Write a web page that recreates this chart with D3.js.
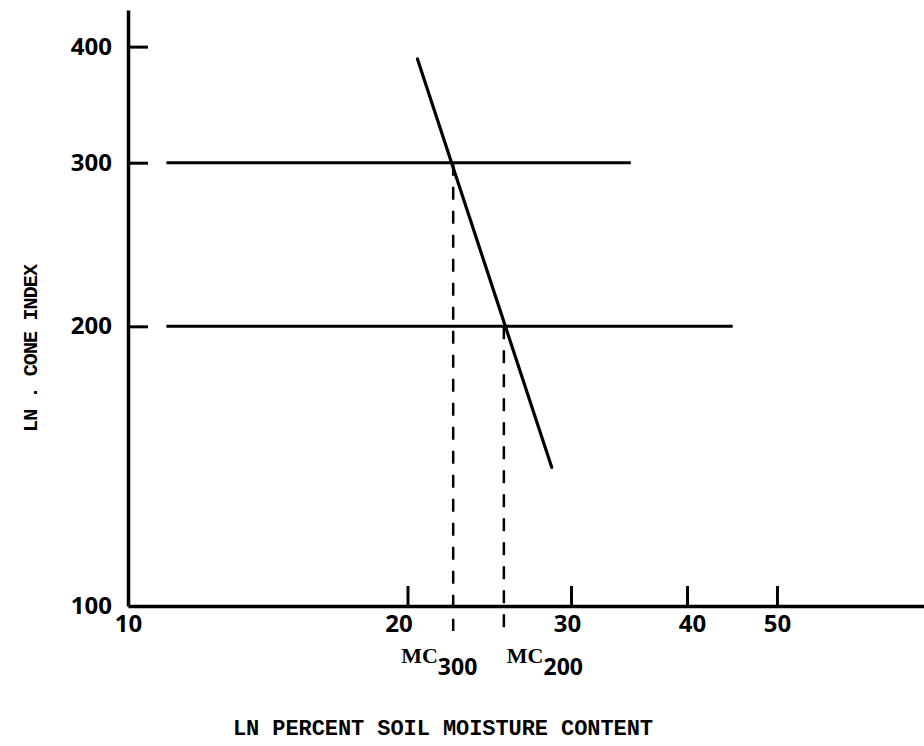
<!DOCTYPE html>
<html>
<head>
<meta charset="utf-8">
<script src="https://cdn.jsdelivr.net/npm/d3@7"></script>
<style>
  body { margin: 0; background: #fff; }
  .tick text { font-family: "Noto Sans", sans-serif; font-weight: bold; }
</style>
</head>
<body>
<div id="chart"></div>
<script>
// tick values on the two log axes
var xTicks = [10, 20, 30, 40, 50];
var yTicks = [100, 200, 300, 400];

// horizontal reference lines: cone index level and x range
var refLevels = [300, 200];
var refStart = [11, 11];
var refEnd = [34.8, 44.8];

// the fitted line (moisture %, cone index) at its two ends
var fitMoisture = [20.5, 28.6];
var fitCone = [388, 141];

// moisture where the line crosses each level
var mcNames = ["300", "200"];
var mcMoisture = [22.4, 25.4];
var mcCone = [300, 200];

var width = 924, height = 746;

var svg = d3.select("#chart")
  .append("svg")
  .attr("width", width)
  .attr("height", height);

var x = d3.scaleLog().domain([10, 72]).range([128, 924]);
var y = d3.scaleLog().domain([100, 438]).range([606, 10]);

// x axis, ticks point up into the plot
var xAxis = svg.append("g")
  .attr("transform", "translate(0," + y(100) + ")")
  .call(d3.axisBottom(x)
    .tickValues(xTicks)
    .tickFormat(d3.format("d"))
    .tickSizeInner(-20)
    .tickSizeOuter(0)
    .tickPadding(9));
xAxis.select(".domain").attr("stroke-width", 3.5);
xAxis.selectAll(".tick line").attr("stroke-width", 3);
xAxis.selectAll(".tick text").attr("font-size", 24).attr("fill", "#000");
xAxis.selectAll(".tick").filter(function(d) { return d == 10; }).select("line").remove();
// labels sit a little off their ticks in the original
xAxis.selectAll(".tick text").attr("dx", function(d) {
  return d == 20 ? -9 : d == 30 ? -4 : d == 40 ? 5 : 0;
});

// y axis, ticks point right
var yAxis = svg.append("g")
  .attr("transform", "translate(" + x(10) + ",0)")
  .call(d3.axisLeft(y)
    .tickValues(yTicks)
    .tickFormat(d3.format("d"))
    .tickSizeInner(-20)
    .tickSizeOuter(0)
    .tickPadding(16));
yAxis.select(".domain").attr("stroke-width", 3.5);
yAxis.selectAll(".tick line").attr("stroke-width", 3);
yAxis.selectAll(".tick text").attr("font-size", 24).attr("fill", "#000");
yAxis.selectAll(".tick").filter(function(d) { return d == 100; }).select("line").remove();

// horizontal level lines
svg.append("g").selectAll("line")
  .data(refLevels)
  .enter().append("line")
  .attr("x1", function(d, i) { return x(refStart[i]); })
  .attr("x2", function(d, i) { return x(refEnd[i]); })
  .attr("y1", function(d) { return y(d); })
  .attr("y2", function(d) { return y(d); })
  .attr("stroke", "#000")
  .attr("stroke-width", 3);

// dashed drops from the crossings down past the axis
svg.append("g").selectAll("line")
  .data(mcMoisture)
  .enter().append("line")
  .attr("x1", function(d) { return x(d); })
  .attr("x2", function(d) { return x(d); })
  .attr("y1", function(d, i) { return y(mcCone[i]); })
  .attr("y2", y(94))
  .attr("stroke", "#000")
  .attr("stroke-width", 2.5)
  .attr("stroke-dasharray", "13,11");

// the fitted line
svg.append("line")
  .attr("x1", x(fitMoisture[0]))
  .attr("y1", y(fitCone[0]))
  .attr("x2", x(fitMoisture[1]))
  .attr("y2", y(fitCone[1]))
  .attr("stroke", "#000")
  .attr("stroke-width", 3.2)
  .attr("stroke-linecap", "round");

// MC labels with subscripts
var mc = svg.append("g").selectAll("text")
  .data(mcNames)
  .enter().append("text")
  .attr("x", function(d, i) { return x(mcMoisture[i]) - (i == 0 ? 52 : -3); })
  .attr("y", 663)
  .attr("font-family", "Liberation Serif, serif")
  .attr("font-weight", "bold")
  .attr("font-size", 22)
  .attr("fill", "#000");
mc.append("tspan").text("MC");
mc.append("tspan")
  .attr("dy", 12)
  .attr("font-family", "Noto Sans, sans-serif")
  .attr("font-size", 23)
  .text(function(d) { return d; });

// axis titles
svg.append("text")
  .attr("x", 233)
  .attr("y", 735)
  .attr("textLength", 420)
  .attr("lengthAdjust", "spacing")
  .attr("font-family", "Liberation Mono, monospace")
  .attr("font-weight", "bold")
  .attr("font-size", 22)
  .attr("fill", "#000")
  .text("LN PERCENT SOIL MOISTURE CONTENT");

svg.append("text")
  .attr("transform", "translate(37,432) rotate(-90)")
  .attr("textLength", 168)
  .attr("lengthAdjust", "spacing")
  .attr("font-family", "Liberation Mono, monospace")
  .attr("font-weight", "bold")
  .attr("font-size", 20)
  .attr("fill", "#000")
  .text("LN . CONE INDEX");
</script>
</body>
</html>
